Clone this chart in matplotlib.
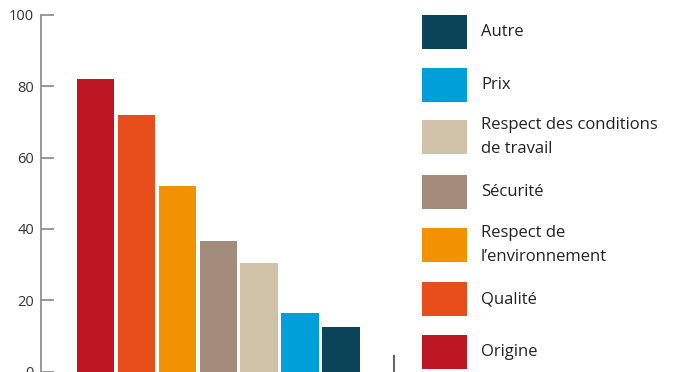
import matplotlib
matplotlib.use('Agg')
import matplotlib.pyplot as plt
from matplotlib.patches import Rectangle

# data
categories = ['Origine', 'Qualité', "Respect de\nl’environnement", 'Sécurité',
              'Respect des conditions\nde travail', 'Prix', 'Autre']
values = [82, 72, 52, 36.5, 30.5, 16.5, 12.5]
colors = ['#BE1622', '#E84E1B', '#F39200', '#A38B7C', '#CFC2A8', '#009FDA', '#0B4458']
yticks = [0, 20, 40, 60, 80, 100]

plt.rcParams['font.family'] = ['Open Sans', 'DejaVu Sans']

fig = plt.figure(figsize=(6.87, 3.72), dpi=100)
ax = fig.add_axes([41/687, 0.5/372, 356/687, 356.5/372])

x = list(range(len(values)))
ax.bar(x, values, width=0.91, color=colors)
ax.set_xlim(-1.33, 7.37)
ax.set_ylim(0, 100)
ax.set_yticks(yticks)
ax.set_xticks([7.3])
ax.set_xticklabels([''])
ax.tick_params(axis='y', direction='in', length=9, width=1.2, color='#888888',
               labelsize=10.5, labelcolor='#333333', pad=5)
ax.tick_params(axis='x', direction='in', length=12, width=1.5, color='#666666')
for s in ['top', 'right', 'bottom']:
    ax.spines[s].set_visible(False)
ax.spines['left'].set_color('#888888')
ax.spines['left'].set_linewidth(1.2)

# legend drawn on the right, top item = last category
lx, lw, lh = 422/687, 45/687, 34/372
tops = [15, 68, 120, 175, 228, 282, 335]
order = list(reversed(range(len(categories))))
for top, i in zip(tops, order):
    y0 = 1 - (top + 34) / 372
    fig.add_artist(Rectangle((lx, y0), lw, lh, transform=fig.transFigure,
                             facecolor=colors[i], edgecolor='none'))
    fig.text(481/687, y0 + lh / 2, categories[i], fontsize=12,
             color='#222222', va='center', ha='left', linespacing=1.7)

fig.savefig('out.png', dpi=100)
